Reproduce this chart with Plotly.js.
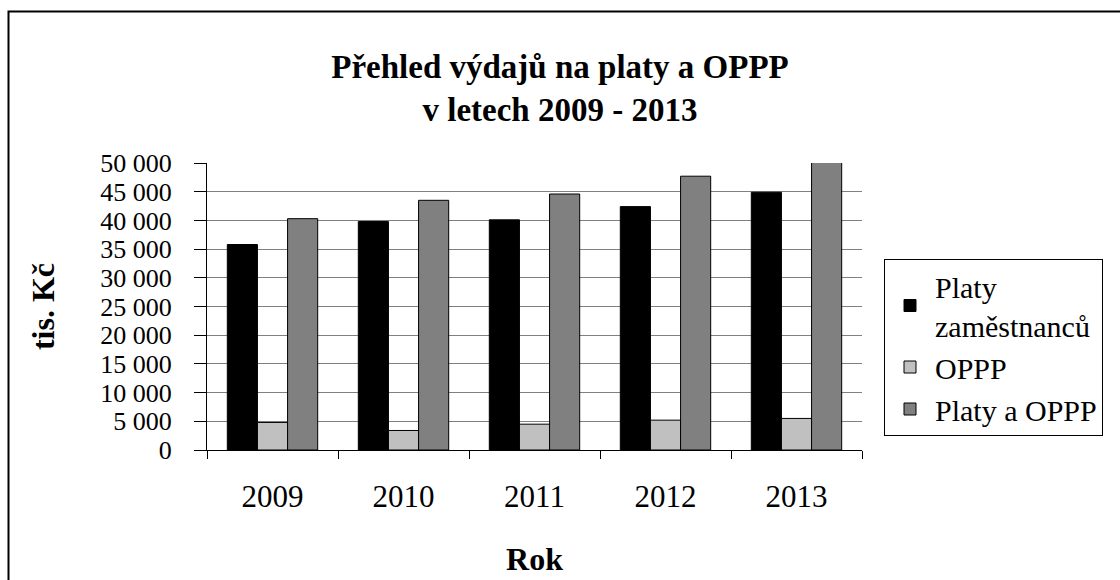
<!DOCTYPE html>
<html>
<head>
<meta charset="utf-8">
<script src="https://cdn.plot.ly/plotly-3.0.1.min.js"></script>
<style>
  html, body { margin: 0; padding: 0; background: #ffffff; }
  #chart { width: 1120px; height: 580px; }
</style>
</head>
<body>
<div id="chart"></div>
<script>
const years = ['2009', '2010', '2011', '2012', '2013'];
const platy = [35800, 39800, 40100, 42400, 44900];
const oppp = [4800, 3400, 4500, 5200, 5500];
const platyAOppp = [40300, 43500, 44600, 47700, 50400];
const seriesNames = ['Platy<br>zaměstnanců', 'OPPP', 'Platy a OPPP'];
const yTickVals = [0, 5000, 10000, 15000, 20000, 25000, 30000, 35000, 40000, 45000, 50000];

const FONT = 'Liberation Serif, Times New Roman, serif';
const colors = ['#000000', '#c0c0c0', '#808080'];
const values = [platy, oppp, platyAOppp];

const traces = values.map((v, i) => ({
  type: 'bar',
  x: years,
  y: v,
  name: seriesNames[i],
  marker: { color: colors[i], line: { color: '#000000', width: 1 } },
  cliponaxis: false,
  hoverinfo: 'none'
}));

const L = 207, R = 862, T = 163, B = 450;
const pw = R - L, ph = B - T;
const px = p => (p - L) / pw;
const py = p => (B - p) / ph;

const layout = {
  width: 1120,
  height: 580,
  margin: { l: L, r: 1120 - R, t: T, b: 580 - B },
  paper_bgcolor: '#ffffff',
  plot_bgcolor: '#ffffff',
  separators: ', ',
  font: { family: FONT, color: '#000000', size: 26 },
  title: {
    text: '<b>Přehled výdajů na platy a OPPP<br>v letech 2009 - 2013</b>',
    font: { family: FONT, size: 33, color: '#000000' },
    x: 0.5, xref: 'container', xanchor: 'center',
    y: 0.865, yref: 'container', yanchor: 'top'
  },
  barmode: 'group',
  bargap: 0.31,
  bargroupgap: 0,
  showlegend: true,
  legend: {
    x: px(884), xanchor: 'left',
    y: py(259), yanchor: 'top',
    bgcolor: '#ffffff',
    bordercolor: '#000000',
    borderwidth: 1,
    font: { family: FONT, size: 30, color: '#000000' },
    traceorder: 'normal',
    itemwidth: 40
  },
  xaxis: {
    type: 'category',
    categoryarray: years,
    showline: true, linecolor: '#000000', linewidth: 1,
    ticks: 'outside', tickson: 'boundaries', ticklen: 8, tickcolor: '#000000',
    ticklabelstandoff: 19,
    tickfont: { family: FONT, size: 31, color: '#000000' },
    showgrid: false,
    title: { text: '<b>Rok</b>', font: { family: FONT, size: 32, color: '#000000' }, standoff: 34 }
  },
  yaxis: {
    range: [0, 50000],
    tickvals: yTickVals,
    tickformat: ',d',
    showline: true, linecolor: '#000000', linewidth: 1,
    ticks: 'outside', ticklen: 12, tickcolor: '#000000',
    ticklabelstandoff: 17,
    tickfont: { family: FONT, size: 26, color: '#000000' },
    showgrid: true, gridcolor: '#808080', gridwidth: 1,
    zeroline: false,
    title: { text: '<b>tis. Kč</b>', font: { family: FONT, size: 32, color: '#000000' }, standoff: 36 }
  },
  shapes: [
    {
      type: 'path', xref: 'paper', yref: 'paper',
      path: 'M ' + px(8.5) + ' ' + py(600) + ' L ' + px(8.5) + ' ' + py(11.5) + ' L ' + px(1130) + ' ' + py(11.5),
      line: { color: '#000000', width: 2 }
    }
  ]
};

Plotly.newPlot('chart', traces, layout, { displayModeBar: false, staticPlot: true });
</script>
</body>
</html>
